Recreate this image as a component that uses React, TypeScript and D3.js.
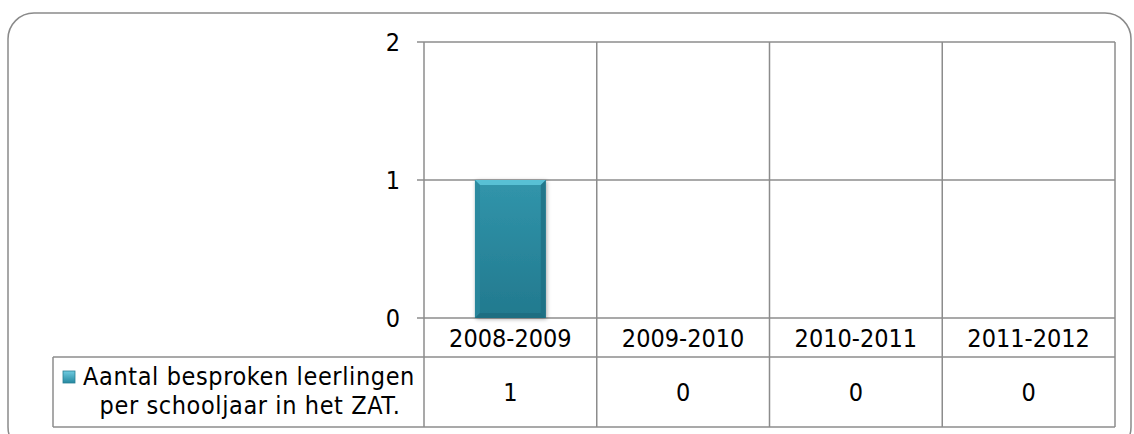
import React from "react";
import * as d3 from "d3";

const categories = ["2008-2009", "2009-2010", "2010-2011", "2011-2012"];
const values = [1, 0, 0, 0];
const yTicks = [0, 1, 2];
const seriesName = ["Aantal besproken leerlingen", "per schooljaar in het ZAT."];

const W = 1134;
const H = 434;
const FONT = "'DejaVu Sans Condensed', 'DejaVu Sans', sans-serif";
const GRID = "#8c8c8c";

export default function App() {
  const left = 424, right = 1115, top = 42, bottom = 318;
  const row1 = 357, row2 = 427, tableLeft = 53;
  const x = d3.scaleBand<string>().domain(categories).range([left, right]).paddingInner(0).paddingOuter(0);
  const y = d3.scaleLinear().domain([0, 2]).range([bottom, top]);
  const bw = x.bandwidth() * 0.41;
  const bounds = categories.map((c) => x(c)!).concat([right]);

  return (
    <div style={{ position: "absolute", left: 0, top: 0 }}>
      <svg width={W} height={H} style={{ display: "block" }}>
        <defs>
          <linearGradient id="barG" x1="0" x2="0" y1="0" y2="1">
            <stop offset="0" stopColor="#3195ab" />
            <stop offset="1" stopColor="#22798e" />
          </linearGradient>
          <linearGradient id="legG" x1="0" x2="0" y1="0" y2="1">
            <stop offset="0" stopColor="#6fcbe0" />
            <stop offset="1" stopColor="#2588a0" />
          </linearGradient>
          <filter id="sh" x="-20%" y="-10%" width="140%" height="120%">
            <feGaussianBlur in="SourceAlpha" stdDeviation="2" />
            <feOffset dx="1" dy="1" result="b" />
            <feComponentTransfer><feFuncA type="linear" slope="0.35" /></feComponentTransfer>
            <feMerge><feMergeNode /><feMergeNode in="SourceGraphic" /></feMerge>
          </filter>
        </defs>
        <rect x={0} y={0} width={W} height={H} fill="#fff" />
        <rect x={8} y={13} width={1123} height={440} rx={26} ry={26} fill="#fff" stroke="#8a8a8a" strokeWidth={1.5} />
        {/* horizontal gridlines */}
        {yTicks.map((t) => (
          <g key={t}>
            <line x1={left - 7} x2={right} y1={y(t)} y2={y(t)} stroke={GRID} strokeWidth={1.5} />
            <text x={400} y={y(t)} dy="0.36em" textAnchor="end" fontFamily={FONT} fontSize={25} fill="#000">
              {t}
            </text>
          </g>
        ))}
        {/* vertical lines */}
        {bounds.map((bx, i) => (
          <line key={i} x1={bx} x2={bx} y1={top} y2={row2} stroke={GRID} strokeWidth={1.5} />
        ))}
        {/* table lines */}
        <line x1={tableLeft} x2={right} y1={row1} y2={row1} stroke={GRID} strokeWidth={1.5} />
        <line x1={tableLeft} x2={right} y1={row2} y2={row2} stroke={GRID} strokeWidth={1.5} />
        <line x1={tableLeft} x2={tableLeft} y1={row1} y2={row2} stroke={GRID} strokeWidth={1.5} />
        {/* bars */}
        {categories.map((c, i) => {
          const v = values[i];
          if (v <= 0) return null;
          const cx = x(c)! + x.bandwidth() / 2;
          const x0 = cx - bw / 2, x1 = cx + bw / 2;
          const y0 = y(v), y1 = y(0);
          const b = 5;
          return (
            <g key={c}>
              <rect x={x0} y={y0} width={bw} height={y1 - y0} fill="url(#barG)" filter="url(#sh)" />
              <polygon points={`${x0},${y0} ${x1},${y0} ${x1 - b},${y0 + b} ${x0 + b},${y0 + b}`} fill="#58c0d5" />
              <polygon points={`${x0},${y0} ${x0 + b},${y0 + b} ${x0 + b},${y1 - b} ${x0},${y1}`} fill="#2b889e" opacity={0.8} />
              <polygon points={`${x1},${y0} ${x1 - b},${y0 + b} ${x1 - b},${y1 - b} ${x1},${y1}`} fill="#1e6f83" opacity={0.8} />
              <polygon points={`${x0},${y1} ${x0 + b},${y1 - b} ${x1 - b},${y1 - b} ${x1},${y1}`} fill="#1d6b7e" opacity={0.8} />
            </g>
          );
        })}
        {/* category labels */}
        {categories.map((c) => (
          <text key={c} x={x(c)! + x.bandwidth() / 2} y={(bottom + row1) / 2} dy="0.36em" textAnchor="middle" fontFamily={FONT} fontSize={25} fill="#000">
            {c}
          </text>
        ))}
        {/* values */}
        {categories.map((c, i) => (
          <text key={c} x={x(c)! + x.bandwidth() / 2} y={(row1 + row2) / 2} dy="0.36em" textAnchor="middle" fontFamily={FONT} fontSize={25} fill="#000">
            {values[i]}
          </text>
        ))}
        {/* legend */}
        <rect x={63} y={371} width={12} height={12} fill="url(#legG)" stroke="#2a7f94" strokeWidth={0.8} />
        <text x={249} y={376} dy="0.36em" textAnchor="middle" fontFamily={FONT} fontSize={25} letterSpacing={0.6} fill="#000">
          {seriesName[0]}
        </text>
        <text x={250} y={405} dy="0.36em" textAnchor="middle" fontFamily={FONT} fontSize={25} letterSpacing={0.6} fill="#000">
          {seriesName[1]}
        </text>
      </svg>
    </div>
  );
}
